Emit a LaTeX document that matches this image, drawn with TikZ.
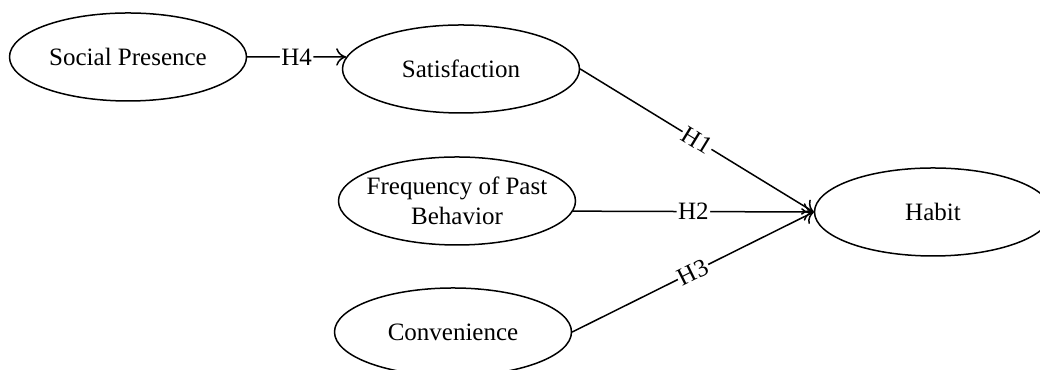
\documentclass[tikz,border=0pt]{standalone}
\usepackage{fontspec}
\setmainfont{Liberation Serif}
\usepackage{tikz}
\usetikzlibrary{arrows.meta,shapes.geometric}
\tikzset{
  >={To[length=4pt,width=7pt]},
  every picture/.style={line cap=round,line join=round},
  construct/.style={ellipse, draw, semithick, minimum width=94.8pt, minimum height=35.2pt, inner sep=0pt},
  hyplabel/.style={midway, sloped, fill=white, inner sep=0.6pt},
}

\begin{document}
\begin{tikzpicture}[x=0.4pt, y=-0.4pt, font=\fontsize{10}{12}\selectfont]
    % 外枠
    \useasboundingbox (0,0) rectangle (1040,370);
    % 構成概念
    \node[construct, label={center:Social Presence}] (social) at (128,57) {};
    \node[construct, label={center:Satisfaction}] (satis) at (461,69) {};
    \node[construct, label={[align=center]center:Frequency of Past\\Behavior}] (freq) at (457,201) {};
    \node[construct, label={center:Convenience}] (conv) at (453,332) {};
    \node[construct, label={center:Habit}] (habit) at (933,212) {};
    % 仮説パス
    \draw[semithick,->] (social.east) -- (satis.174) node[hyplabel] {H4};
    \draw[semithick,->] (satis.east) -- (habit.west) node[hyplabel] {H1};
    \draw[semithick,->] (freq.-5) -- (habit.west) node[hyplabel] {H2};
    \draw[semithick,->] (conv.east) -- (habit.west) node[hyplabel] {H3};
  \end{tikzpicture}
\end{document}
